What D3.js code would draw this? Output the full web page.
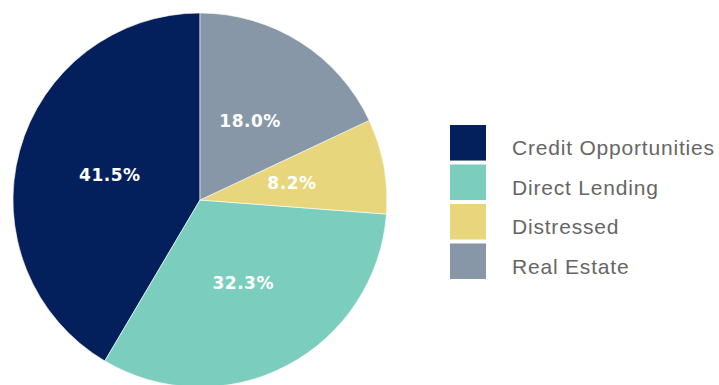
<!DOCTYPE html>
<html>
<head>
<meta charset="utf-8">
<script src="https://cdn.jsdelivr.net/npm/d3@7"></script>
<style>
  html, body { margin: 0; padding: 0; background: #ffffff; }
  svg { display: block; }
</style>
</head>
<body>
<svg id="chart" width="719" height="385"></svg>
<script>
// Strategy allocation (percent of total)
const categories = ["Credit Opportunities", "Direct Lending", "Distressed", "Real Estate"];
const shares = [41.5, 32.3, 8.2, 18.0];
const colors = ["#03205c", "#7bcebd", "#e7d67b", "#8797a8"];

// Clockwise drawing order starting at 12 o'clock
const drawOrder = ["Real Estate", "Distressed", "Direct Lending", "Credit Opportunities"];

const data = categories.map((c, i) => ({ name: c, value: shares[i], color: colors[i] }));

const svg = d3.select("#chart");
const cx = 200, cy = 200, radius = 187;

const pie = d3.pie()
  .value(d => d.value)
  .sort((a, b) => drawOrder.indexOf(a.name) - drawOrder.indexOf(b.name));

const arc = d3.arc().innerRadius(0).outerRadius(radius);
const labelArc = d3.arc().innerRadius(radius * 0.5).outerRadius(radius * 0.5);

const g = svg.append("g").attr("transform", `translate(${cx},${cy})`);
const arcs = pie(data);

g.selectAll("path.slice")
  .data(arcs)
  .join("path")
  .attr("class", "slice")
  .attr("d", arc)
  .attr("fill", d => d.data.color)
  .attr("stroke", "#ffffff")
  .attr("stroke-width", 0.6);

g.selectAll("text.pct")
  .data(arcs)
  .join("text")
  .attr("class", "pct")
  .attr("transform", d => `translate(${labelArc.centroid(d)})`)
  .attr("text-anchor", "middle")
  .attr("dy", "0.36em")
  .attr("fill", "#ffffff")
  .style("font-family", "'DejaVu Sans', sans-serif")
  .style("font-weight", "bold")
  .style("font-size", "17px")
  .style("letter-spacing", "0.5px")
  .text(d => d.data.value.toFixed(1) + "%");

// Legend
const legendY = d3.scaleBand()
  .domain(categories)
  .range([125, 279])
  .paddingInner(0.1);

const legend = svg.append("g");
const rows = legend.selectAll("g.row")
  .data(data)
  .join("g")
  .attr("class", "row")
  .attr("transform", d => `translate(450,${legendY(d.name)})`);

rows.append("rect")
  .attr("width", 36)
  .attr("height", legendY.bandwidth())
  .attr("fill", d => d.color);

rows.append("text")
  .attr("x", 62)
  .attr("y", legendY.bandwidth() / 2 + 12.5)
  .attr("fill", "#666666")
  .style("font-family", "'Liberation Sans', Arial, sans-serif")
  .style("font-size", "21px")
  .style("letter-spacing", "0.8px")
  .text(d => d.name);
</script>
</body>
</html>
